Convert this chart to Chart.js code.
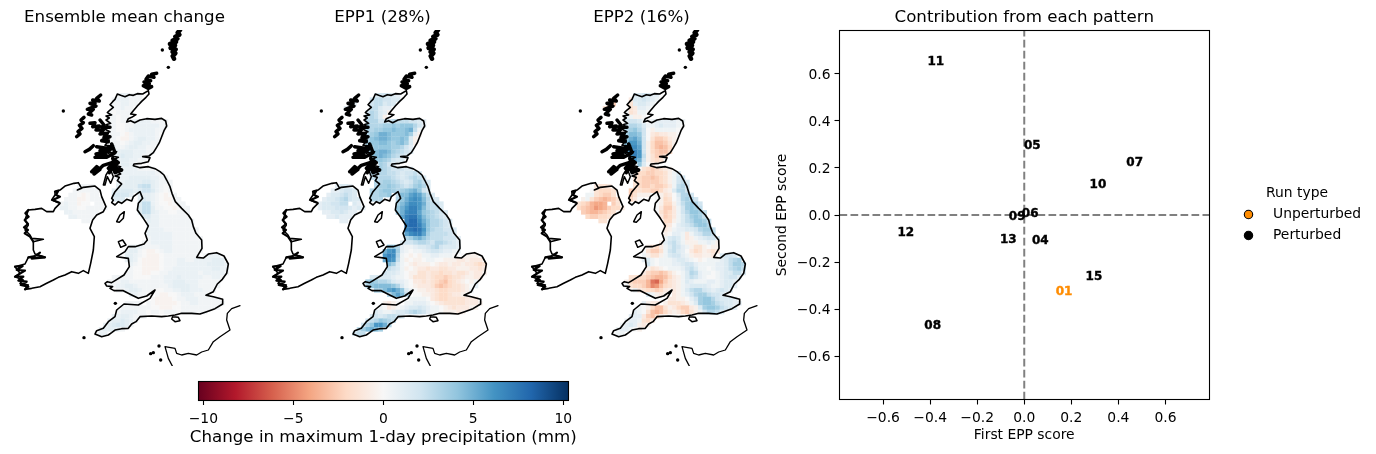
<!DOCTYPE html>
<html><head><meta charset="utf-8">
<script src="https://cdn.jsdelivr.net/npm/chart.js@4/dist/chart.umd.min.js"></script>
<style>html,body{margin:0;padding:0;background:#fff;width:1376px;height:454px;overflow:hidden}canvas{position:absolute;display:block}</style>
</head><body>
<canvas id="m0" width="249" height="370" style="left:0;top:0"></canvas>
<canvas id="m1" width="249" height="370" style="left:258px;top:0"></canvas>
<canvas id="m2" width="249" height="370" style="left:517px;top:0"></canvas>
<canvas id="cb" width="410" height="79" style="left:180px;top:375px"></canvas>
<canvas id="sc" width="606" height="454" style="left:770px;top:0"></canvas>
<script>
// ---------- data ----------
const panelTitles = ['Ensemble mean change', 'EPP1 (28%)', 'EPP2 (16%)'];
// Grid values by row: "startColumn:cells". Cell code counts steps of cellSteps[panel] mm: 0-9 = 0..9, A-G = 10..16, a-l = -1..-12, "." = no data
const cellSteps = [0.35, 0.5, 0.5];
const meanRows = ["13:122111","8:0 12:1222111","7:00 12:112211","6:00 12:11211","11:101111","11:11011","11:11011122221111","11:11001122222211","11:1100122222211","11:1110a12222210","11:110aa1233221","11:111012332211","11:12112332211","11:22333322211","12:234332211","13:2332211","14:3321","13:222221111","12:122222222211","12:1222333332211","13:2233334432111",
"4:1111 13:3333367732101","3:111111 12:34444346642101","2:110a011 12:55553 18:333210a01","1:111aa0111 12:444 18:343210aa11","0:1211a00.11 18:4772100a011","0:22110011111 18:47731100a011","1:22111111 18:477321100111","2:221111 19:44221111111","5:11 20:32211111111","20:22211111111","20:222211111111","20:222222111111","20:1222221111111","19:11222221111111","16:22211112221111111","15:23310aa01221111111","15:33210aaa011111111 33:1222","15:2320aaaa011122112222333","16:210aaaa0111222222233332","16:100aaaa0112222222223322","15:1100aa001122222221222221","12:11111000011122232222211221","11:11122111111112233322211111","11:11223321111111233332211111","13:11233211100112233222111","16:22110 22:0aa001222111","21:0aaaa01122211111","15:1111 20:10aaaaa01122111111","14:111111100aaa00111111111","13:122221101101110111111","12:22332111","11:2334321","10:2345431","9:233321","8:122"];
const epp1Rows = ["13:344332","8:2 12:4554433","7:22 12:455343","6:22 12:55322","11:46532a","11:5653a","11:66644455554432","11:76667787888642","11:7677889889A51","11:678AA9888972a","11:689AA988983a","11:78899878973a","11:77888877642","11:689AA976543","12:89A986543","13:8876433","14:7643","13:776544433","12:666655434453","12:5566654345653","13:6677654346753",
"4:2332 13:6778765457863","3:223443 12:6678876789A843","2:2334543 12:66778 18:599BCB853","1:233456433 12:666 18:68ACDC9643","0:2334455.32 18:79BDDCA6543","0:23334443232 18:8ACEEC96553","1:22334322 18:8ADEEB876543","2:223222 19:BEFFC976543","5:22 20:EGGDA866543","20:FGGEB866543","20:EFGFC8655443","20:BDEEB7555543","20:679A865554442","19:34456654665432","16:88621123345643332","15:ACD721011234432211","15:CED610a0a11221110 33:0aaa","15:ADC51a0aa01100aaabbabbb","16:97310abaaa0abbabbabbcdc","16:5431a0abbcbbccbbaaabbcb","15:433210aaccbccdccbccbabba","12:333332110acccbcddedccbaabb","11:78766532210bbcbcdefdcba0a1","11:68999986310abbbcefedccba02","13:779BCA8310aabbcddcccba1","16:69B95 22:00aabcddcbba","21:11110bcddccccbbb","15:aba0 20:1122210abcccccbbba","14:10ba01233432110abcbbbaa","13:3211233456542110aaaba","12:34345543","11:4568765","10:468CCA6","9:579A97","8:455"];
const epp2Rows = ["13:334322","8:b 12:b334321","7:de 12:c23321","6:cd 12:cb221","11:1cb110","11:21aa0","11:34431012222211","11:46653112322210","11:678640a111110","11:799840bcbbaa0","11:8AB940ceedba","11:9CCA4adffeca","11:ADDB4adfgfd","11:ADEC4adeffd","12:CEC5aceed","13:CA4acdc","14:830b","13:30cdedcba","12:1bddeeddca13","12:0cdeefedca144","13:cdeeeedca1453",
"4:bccb 13:cdeedeedb1564","3:0cdddc 12:edcddeedba3664","2:11cdeec 12:ecaaa 18:0acb03664","1:a1cefgfec 12:db0 18:0adc026764","0:cdeghhg.ec 18:0adda257864","0:defgihgeddb 18:0beeb147875","1:efggfedc 18:0cedb1468875","2:deeddc 19:bedb1357875","5:cc 20:dda13568875","20:cb023457886","20:ba1223346775","20:a0221b134665","20:13431ba123443","19:a24531aaa1121a","16:acdb135421acca0aa","15:0ceec145320bdcabcb","15:1acca134421abbaab 33:3443","15:2310111233210a011123567","16:41011122344211112235776","16:acba0111245311012235675","15:bdeefeca0136521101233553","12:ccddefggfdba13542100123442","11:adeeegklhecba1321112212332","11:1cddegjifdcba1233332112332","13:1bcddedbaba135664323432","16:31aba 22:ba1246775443","21:bbaa024788643332","15:2abb 20:acccba137887543322","14:10adffcabdeeba378875432","13:210cfgfdbabdeca146653","12:222befda","11:1221cdb","10:1232aba","9:12210a","8:011"];
const panelRows = [meanRows, epp1Rows, epp2Rows];
// Outlines in map grid units
const coastGB = [352,222,362,226,375,230,388,224,400,226,412,221,428,222,445,212,447,222,438,232,425,244,412,258,400,272,392,282,408,284,395,292,385,296,380,306,392,302,404,308,420,300,440,296,465,298,485,295,497,303,500,318,492,332,485,350,478,368,468,385,460,398,447,408,428,410,450,413,445,425,425,430,402,432,400,437,420,443,445,440,465,446,480,455,492,465,500,480,510,500,516,520,526,545,545,565,565,585,575,600,580,620,588,640,605,660,606,685,597,700,590,712,610,714,625,702,650,698,672,708,685,732,680,760,667,778,652,792,640,815,618,826,640,830,668,838,668,852,645,866,620,875,600,882,575,880,545,880,525,885,505,888,485,890,455,888,420,890,408,905,395,912,385,925,365,926,345,930,335,938,325,945,305,950,285,942,290,932,310,925,325,905,345,890,350,870,372,852,415,855,450,835,465,810,440,828,415,835,395,825,370,812,342,812,330,805,338,800,320,798,315,790,322,785,335,788,345,782,372,765,388,740,385,715,350,710,375,695,385,680,405,680,432,672,442,660,435,640,445,618,430,595,412,570,415,550,428,535,420,515,400,530,395,543,380,538,365,550,355,545,345,555,335,548,340,540,335,535,345,515,365,492,352,482,358,472,345,468,362,462,347,452,362,440,345,436,352,425,338,420,355,412,335,408,350,395,325,400,338,385,318,388,338,378,315,376,328,360,310,358,322,348,312,342,330,335,315,328,326,320,318,314,332,310,318,300,328,294,318,288,335,285,322,278,330,270,340,262,330,254,338,245,345,238,352,222];
const coastIreland = [180,510,195,498,205,495,222,490,235,488,245,505,232,510,250,502,285,498,300,510,305,530,318,560,310,575,290,585,278,600,270,625,283,650,280,690,272,730,265,760,250,752,235,760,215,755,195,765,175,772,160,780,140,790,120,800,95,805,75,808,85,795,60,790,70,780,45,770,60,760,45,740,75,732,85,712,135,712,105,702,100,690,100,665,130,658,95,655,90,645,75,630,85,615,75,600,85,570,105,568,125,565,140,575,160,575,165,565,180,550,155,540,165,525,165,515,180,510];
const coastFrance = [720,857,695,866,682,880,680,900,690,930,660,950,640,965,625,990,605,996,590,1005,565,1000,545,1005,530,1000,525,985,495,980,505,1015,518,1040];
const islandOutlines = [[350,605,360,585,373,575,370,595,358,607,350,605],[355,665,368,660,378,675,362,682,355,665],[518,890,535,892,540,902,525,905,515,897,518,890],[310,495,318,465,330,445,340,470,332,490,322,470,315,495,310,495]];
const islandBlobs = [
 [[540,30,533,38,538,44,526,50,532,56,518,62,528,66,510,72,525,76,512,84,527,88,518,96,526,100,518,108,522,116],4.5],
 [[470,160,455,163,462,172,445,168,438,178,452,182,432,186,448,192,430,197,445,205,455,200],3.5],
 [[302,225,290,235,298,243,278,240,285,250,270,250,288,258,262,268,280,268,265,282,275,285],3.5],
 [[252,292,243,300,250,308,238,316,246,325,234,335,240,342,230,350],3.5],
 [[270,310,285,308,278,320,298,318,288,330,310,330,300,342,322,340,312,352,330,350,305,362,325,365],3.5],
 [[300,300,312,315,305,322,330,322],3.5],
 [[255,395,268,388,280,377],3.5],
 [[290,380,320,385,300,392,338,378,322,395,288,402,318,402,285,412,320,412,345,398,335,372],3.5],
 [[275,455,290,440,300,448,282,462,295,450,310,436,345,425,325,445,355,428,338,415,350,445,365,450,345,458,338,440,328,458],3.5],
 [[165,515,175,512,168,525,180,530,158,540,178,548],2.2],
 [[85,570,76,580,86,590,74,600,84,612,72,622,84,630,74,640,90,650,100,665],2.2],
 [[85,712,105,708,95,716,135,712,110,705,120,698],2.2],
 [[45,740,68,738,50,750,75,752,45,770,70,770,55,782,80,785,62,795,85,800,75,808],2.2]
];
const islandDots = [[487,90],[505,142],[190,273],[252,953],[346,850],[460,998],[452,1001],[482,1020],[477,978]];
const colourStops = ['#67001f','#b2182b','#d6604d','#f4a582','#fddbc7','#f7f7f7','#d1e5f0','#92c5de','#4393c3','#2166ac','#053061'];
const colourLimit = 10.28;
const colourTicks = [-10,-5,0,5,10];
const colourLabel = 'Change in maximum 1-day precipitation (mm)';
const memberLabels = ['11','05','07','10','06','09','12','13','04','15','01','08'];
const firstScores  = [-0.376,0.034,0.469,0.313,0.025,-0.030,-0.503,-0.068,0.068,0.296,0.169,-0.389];
const secondScores = [0.655,0.298,0.226,0.132,0.009,-0.004,-0.072,-0.102,-0.106,-0.260,-0.323,-0.468];
const scoreTicks = [-0.6,-0.4,-0.2,0,0.2,0.4,0.6];
const scoreLimit = 0.785;
const unperturbedMember = '01';
const legendEntries = ['Unperturbed','Perturbed'];

// ---------- helpers ----------
const FONT = '"DejaVu Sans", sans-serif';
const ORANGE = '#ff8c00';
Chart.defaults.font.family = FONT;
Chart.defaults.color = '#000';
Chart.defaults.animation = false;
Chart.defaults.devicePixelRatio = 1;
Chart.defaults.responsive = false;
Chart.defaults.events = [];
Chart.defaults.layout.autoPadding = false;
Chart.defaults.plugins.legend.display = false;
Chart.defaults.plugins.tooltip.enabled = false;

function decode(c,step){
  if (c >= '0' && c <= '9') return (+c)*step;
  if (c >= 'A' && c <= 'Z') return (10 + c.charCodeAt(0)-65)*step;
  if (c >= 'a' && c <= 'z') return (-1 - (c.charCodeAt(0)-97))*step;
  return null;
}
function hex(s){return [1,3,5].map(i=>parseInt(s.substr(i,2),16));}
const stopRGB = colourStops.map(hex);
function cmap(v){
  const t = Math.max(0,Math.min(0.9999,(v+colourLimit)/(2*colourLimit)))*10;
  const i = Math.floor(t), f = t-i, a = stopRGB[i], b = stopRGB[i+1];
  return 'rgb('+[0,1,2].map(k=>Math.round(a[k]+(b[k]-a[k])*f)).join(',')+')';
}
function cells(rows,step){
  const pts = [];
  rows.forEach((row,i)=>{
    row.split(' ').forEach(seg=>{
      const [s,vals] = seg.split(':');
      [...vals].forEach((ch,k)=>{
        const v = decode(ch,step);
        if (v!==null) pts.push({x:186+13*(+s+k), y:226+13*i, v});
      });
    });
  });
  return pts;
}
function pairs(a){const o=[];for(let i=0;i<a.length;i+=2)o.push({x:a[i],y:a[i+1]});return o;}
function line(a,w){return {type:'scatter',data:pairs(a),showLine:true,borderColor:'#000',borderWidth:w,borderJoinStyle:'round',borderCapStyle:'round',pointRadius:0,tension:0,order:1,fill:false};}

const framePlugin = {id:'frame',afterDraw(c){
  const a=c.chartArea,x=c.ctx;
  x.save();x.strokeStyle='#000';x.lineWidth=1.1;
  x.strokeRect(Math.floor(a.left)+.5,Math.floor(a.top)+.5,Math.round(a.right-a.left),Math.round(a.bottom-a.top));
  x.restore();
}};

// ---------- map panels ----------
panelTitles.forEach((title,p)=>{
  const pts = cells(panelRows[p],cellSteps[p]);
  new Chart(document.getElementById('m'+p),{
    type:'scatter',
    data:{datasets:[
      {data:pts,pointStyle:'rect',pointRadius:3.25,pointBorderWidth:0,pointBackgroundColor:pts.map(d=>cmap(d.v)),order:5},
      line(coastGB,1.6),line(coastIreland,1.6),line(coastFrance,1.3),
      ...islandOutlines.map(a=>line(a,1.5)),
      ...islandBlobs.map(b=>line(b[0],b[1])),
      {data:islandDots.map(d=>({x:d[0],y:d[1]})),pointRadius:1.7,pointBackgroundColor:'#000',pointBorderWidth:0,order:1}
    ]},
    options:{
      layout:{padding:{bottom:4}},
      plugins:{title:{display:true,text:title,color:'#000',font:{size:16.67,weight:'normal',lineHeight:1.2},padding:{top:8,bottom:2}}},
      scales:{x:{type:'linear',display:false,min:0,max:747},y:{type:'linear',display:false,reverse:true,min:30,max:1038}}
    }
  });
});

// ---------- colour bar ----------
const colourLabelPlugin = {id:'colourLabel',afterDraw(c){
  const x=c.ctx;x.save();x.fillStyle='#000';x.font='16.67px '+FONT;x.textAlign='center';x.textBaseline='middle';
  x.fillText(colourLabel,c.scales.x.getPixelForValue(0),62.5);
  x.restore();
}};
new Chart(document.getElementById('cb'),{
  type:'bar',
  data:{labels:[''],datasets:[{data:[[-colourLimit,colourLimit]],barPercentage:1,categoryPercentage:1,
    backgroundColor(ctx){
      const a=ctx.chart.chartArea; if(!a) return '#fff';
      const g=ctx.chart.ctx.createLinearGradient(a.left,0,a.right,0);
      colourStops.forEach((s,i)=>g.addColorStop(i/10,s));
      return g;
    }}]},
  options:{
    indexAxis:'y',
    layout:{padding:{left:18.3,right:21.7,top:6}},
    scales:{
      y:{display:false},
      x:{type:'linear',min:-colourLimit,max:colourLimit,
        afterBuildTicks(s){s.ticks=colourTicks.map(v=>({value:v}));},
        afterFit(s){s.height=54;},
        border:{display:false},
        grid:{drawOnChartArea:false,drawTicks:true,tickLength:5,tickColor:'#000',tickWidth:1.1},
        ticks:{autoSkip:false,maxRotation:0,padding:6,font:{size:13.89},color:'#000',callback:v=>String(v).replace('-','\u2212')}
      }
    }
  },
  plugins:[framePlugin,colourLabelPlugin]
});

// ---------- score panel ----------
const idxPert = memberLabels.map((m,i)=>i).filter(i=>memberLabels[i]!==unperturbedMember);
const idxUn = memberLabels.map((m,i)=>i).filter(i=>memberLabels[i]===unperturbedMember);
function members(ix,label,col){return {label,data:ix.map(i=>({x:firstScores[i],y:secondScores[i]})),texts:ix.map(i=>memberLabels[i]),textColor:col,pointRadius:0,order:1};}
function guide(data){return {data,showLine:true,pointRadius:0,borderColor:'#808080',borderWidth:2,borderDash:[7.7,3.3],order:5};}
const textPlugin = {id:'memberText',afterDatasetsDraw(c){
  const x=c.ctx;x.save();x.font='bold 12px '+FONT;x.textAlign='center';x.textBaseline='middle';x.lineWidth=0.4;
  c.data.datasets.forEach(d=>{ if(!d.texts) return;
    x.fillStyle=d.textColor;x.strokeStyle=d.textColor;
    d.data.forEach((p,i)=>{
      const px=c.scales.x.getPixelForValue(p.x),py=c.scales.y.getPixelForValue(p.y)+1;
      x.fillText(d.texts[i],px,py);x.strokeText(d.texts[i],px,py);
    });
  });
  x.restore();
}};
const legendPlugin = {id:'runLegend',afterDraw(c){
  const x=c.ctx;x.save();x.fillStyle='#000';x.font='13.89px '+FONT;x.textBaseline='middle';
  x.fillText('Run type',496,193.5);
  [[ORANGE,214.5],['#000',235.5]].forEach((e,i)=>{
    x.beginPath();x.arc(478.5,e[1],4.2,0,Math.PI*2);x.fillStyle=e[0];x.fill();x.lineWidth=1.1;x.strokeStyle='#000';x.stroke();
    x.fillStyle='#000';x.fillText(legendEntries[i],503,e[1]);
  });
  x.restore();
}};
const tickFmt = v => v.toFixed(1).replace('-','\u2212');
new Chart(document.getElementById('sc'),{
  type:'scatter',
  data:{datasets:[
    members(idxPert,legendEntries[1],'#000'),
    members(idxUn,legendEntries[0],ORANGE),
    guide([{x:-scoreLimit,y:0},{x:scoreLimit,y:0}]),
    guide([{x:0,y:-scoreLimit},{x:0,y:scoreLimit}])
  ]},
  options:{
    layout:{padding:{right:167}},
    plugins:{title:{display:true,fullSize:false,text:'Contribution from each pattern',color:'#000',font:{size:16.67,weight:'normal',lineHeight:1.2},padding:{top:8,bottom:2.5}}},
    scales:{
      x:{type:'linear',min:-scoreLimit,max:scoreLimit,
        afterBuildTicks(s){s.ticks=scoreTicks.map(v=>({value:v}));},
        afterFit(s){s.height=54.5;},
        border:{display:false},
        grid:{drawOnChartArea:false,tickLength:5,tickColor:'#000',tickWidth:1.1},
        ticks:{autoSkip:false,maxRotation:0,padding:6,font:{size:13.89},color:'#000',callback:tickFmt},
        title:{display:true,text:'First EPP score',color:'#000',font:{size:13.89,lineHeight:1.2},padding:{top:0,bottom:10}}
      },
      y:{type:'linear',min:-scoreLimit,max:scoreLimit,
        afterBuildTicks(s){s.ticks=scoreTicks.map(v=>({value:v}));},
        afterFit(s){s.width=69.5;},
        border:{display:false},
        grid:{drawOnChartArea:false,tickLength:5,tickColor:'#000',tickWidth:1.1},
        ticks:{autoSkip:false,padding:4,labelOffset:1,font:{size:13.89},color:'#000',callback:tickFmt},
        title:{display:true,text:'Second EPP score',color:'#000',font:{size:13.89,lineHeight:1.2},padding:{top:4,bottom:0}}
      }
    }
  },
  plugins:[textPlugin,framePlugin,legendPlugin]
});
</script>
</body></html>
